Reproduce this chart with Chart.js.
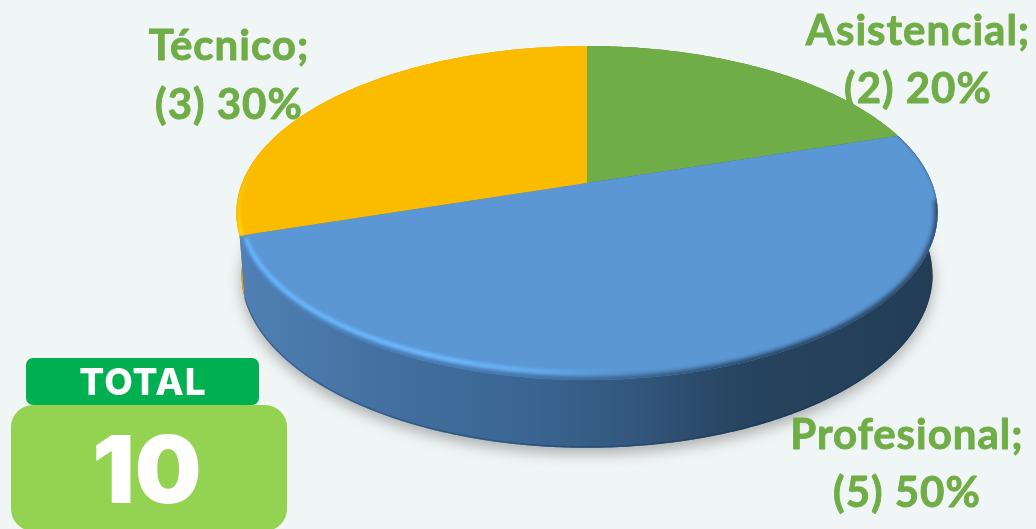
<!DOCTYPE html>
<html lang="es">
<head>
<meta charset="utf-8">
<title>Personal por nivel</title>
<script src="https://cdn.jsdelivr.net/npm/chart.js@4"></script>
<style>
html,body{margin:0;padding:0;background:#f0f5f6;overflow:hidden}
canvas{display:block}
</style>
</head>
<body>
<canvas id="pie" width="1036" height="529"></canvas>
<script>
const categories = ['Asistencial', 'Profesional', 'Técnico'];
const counts = [2, 5, 3];
const percents = [20, 50, 30];
const totalTitle = 'TOTAL';
const totalValue = 10;
const sliceColors = ['#70ad47', '#5b97d5', '#fbbc00'];
const sideColors = ['#4f7a32', '#3f6f9e', '#e5a000'];
const labelColor = '#70ad47';

// Tilted disc: horizontal stretch, perspective shift of the hub, and thickness.
const STRETCH = 2.1;
const HUB_SHIFT = -0.18;
const DEPTH_Y = 62;
const BASE_RX = 0.985;
const BASE_RY = 1.035;

function project(el, angle, rxScale, ryScale, dy) {
  const a = angle + Math.PI / 2;
  const u = Math.sin(a), v = -Math.cos(a);
  const t = HUB_SHIFT;
  const w = 1 + t * v;
  const X = u * Math.sqrt(1 - t * t) / w;
  const Y = (v + t) / w;
  return [el.x + X * el.outerRadius * STRETCH * rxScale,
          el.y + dy + Y * el.outerRadius * ryScale];
}

function arcPoints(el, from, to, rxScale = 1, ryScale = 1, dy = 0) {
  const pts = [];
  const n = Math.max(8, Math.ceil(Math.abs(to - from) * 120));
  for (let i = 0; i <= n; i++) {
    pts.push(project(el, from + (to - from) * i / n, rxScale, ryScale, dy));
  }
  return pts;
}

function trace(ctx, pts, move = true) {
  pts.forEach((p, i) => (i === 0 && move) ? ctx.moveTo(p[0], p[1]) : ctx.lineTo(p[0], p[1]));
}

function roundBox(ctx, x, y, w, h, r, fill) {
  ctx.beginPath();
  ctx.roundRect(x, y, w, h, r);
  ctx.fillStyle = fill;
  ctx.fill();
}

function horizontalGradient(ctx, stops) {
  const g = ctx.createLinearGradient(240, 0, 935, 0);
  stops.forEach(([at, color]) => g.addColorStop(at, color));
  return g;
}

const disc3d = {
  id: 'disc3d',
  beforeDatasetsDraw(chart) {
    const ctx = chart.ctx;
    const arcs = chart.getDatasetMeta(0).data;
    const first = arcs[0];

    // Soft contact shadow under the disc
    ctx.save();
    ctx.shadowColor = 'rgba(60,60,60,0.38)';
    ctx.shadowBlur = 14;
    ctx.shadowOffsetY = 6;
    ctx.fillStyle = '#3f6f9e';
    ctx.beginPath();
    trace(ctx, arcPoints(first, 0, Math.PI * 2, BASE_RX, BASE_RY, DEPTH_Y));
    ctx.closePath();
    ctx.fill();
    ctx.restore();

    // Side walls, back to front
    [2, 0, 1].forEach(i => {
      const el = arcs[i];
      const top = arcPoints(el, el.startAngle, el.endAngle);
      const base = arcPoints(el, el.startAngle, el.endAngle, BASE_RX, BASE_RY, DEPTH_Y).reverse();
      let fill = sideColors[i];
      if (i === 1) {
        fill = horizontalGradient(ctx, [
          [0, '#5080b4'], [0.22, '#426f9f'], [0.42, '#3a6592'],
          [0.58, '#32557b'], [0.72, '#274460'], [1, '#233d55']
        ]);
      }
      ctx.beginPath();
      trace(ctx, top);
      trace(ctx, base, false);
      ctx.closePath();
      ctx.fillStyle = fill;
      ctx.fill();
      if (i === 1) {
        ctx.beginPath();
        trace(ctx, arcPoints(el, el.startAngle + 0.5, el.endAngle, BASE_RX, BASE_RY, DEPTH_Y - 1));
        ctx.strokeStyle = 'rgba(24,44,72,0.35)';
        ctx.lineWidth = 1.2;
        ctx.stroke();
      }
    });

    // Top face of each slice
    arcs.forEach((el, i) => {
      ctx.beginPath();
      ctx.moveTo(el.x, el.y + el.outerRadius * HUB_SHIFT);
      trace(ctx, arcPoints(el, el.startAngle, el.endAngle), false);
      ctx.closePath();
      ctx.fillStyle = sliceColors[i];
      ctx.fill();
    });

    // Bevel on the large slice: darker at the very edge, light band just inside it
    const front = arcs[1];
    ctx.save();
    ctx.beginPath();
    ctx.moveTo(front.x, front.y + front.outerRadius * HUB_SHIFT);
    trace(ctx, arcPoints(front, front.startAngle, front.endAngle), false);
    ctx.closePath();
    ctx.clip();

    ctx.filter = 'blur(2px)';
    ctx.beginPath();
    trace(ctx, arcPoints(front, front.startAngle + 0.42, front.endAngle));
    ctx.strokeStyle = horizontalGradient(ctx, [
      [0, 'rgba(74,128,186,0.9)'], [0.4, 'rgba(66,112,165,0.9)'],
      [0.6, 'rgba(50,85,123,0.9)'], [0.75, 'rgba(36,62,88,0.95)'],
      [0.93, 'rgba(36,62,88,0.9)'], [1, 'rgba(36,62,88,0.8)']
    ]);
    ctx.lineWidth = 7;
    ctx.stroke();

    ctx.filter = 'blur(0.8px)';
    ctx.beginPath();
    trace(ctx, arcPoints(front, front.startAngle, front.startAngle + 0.5));
    ctx.strokeStyle = 'rgba(40,70,100,0.55)';
    ctx.lineWidth = 1.5;
    ctx.stroke();

    ctx.filter = 'blur(1.5px)';
    ctx.beginPath();
    trace(ctx, arcPoints(front, front.startAngle + 0.12, front.endAngle - 0.02, 0.985, 0.955));
    ctx.strokeStyle = horizontalGradient(ctx, [
      [0, 'rgba(104,180,250,1)'], [0.3, 'rgba(110,184,252,1)'],
      [0.44, 'rgba(104,176,244,0.8)'], [0.56, 'rgba(96,160,224,0)'], [1, 'rgba(96,160,224,0)']
    ]);
    ctx.lineWidth = 4.5;
    ctx.stroke();
    ctx.restore();

    // Bright edge on the left of the yellow slice
    const back = arcs[2];
    ctx.save();
    ctx.filter = 'blur(1px)';
    const glow = ctx.createLinearGradient(0, 165, 0, 236);
    glow.addColorStop(0, 'rgba(255,214,0,0)');
    glow.addColorStop(1, 'rgba(255,214,0,1)');
    ctx.beginPath();
    trace(ctx, arcPoints(back, back.startAngle, back.startAngle + 0.6, 0.992, 1));
    ctx.strokeStyle = glow;
    ctx.lineWidth = 3;
    ctx.stroke();
    ctx.restore();

    return false;
  },
  afterDraw(chart) {
    const ctx = chart.ctx;
    const spots = [[918, 45, 103], [907, 449, 507], [229, 60, 119]];

    ctx.save();
    ctx.textAlign = 'center';
    ctx.textBaseline = 'alphabetic';
    ctx.fillStyle = labelColor;
    ctx.strokeStyle = labelColor;
    ctx.lineWidth = 0.9;
    ctx.lineJoin = 'round';
    ctx.letterSpacing = '1px';
    ctx.font = '700 42px Lato';
    categories.forEach((name, i) => {
      const [x, y1, y2] = spots[i];
      const lines = [[name + ';', y1], ['(' + counts[i] + ') ' + percents[i] + '%', y2]];
      lines.forEach(([text, y]) => {
        ctx.fillText(text, x, y);
        ctx.strokeText(text, x, y);
      });
    });

    // Total badge in the lower-left corner
    roundBox(ctx, 26, 358, 233, 47, 7, '#00b050');
    roundBox(ctx, 11, 405, 276, 126, 22, '#94d352');
    ctx.fillStyle = '#ffffff';
    ctx.letterSpacing = '1px';
    ctx.font = '800 37px Inter';
    ctx.fillText(totalTitle, 143, 395);
    ctx.letterSpacing = '0px';
    ctx.font = '900 94px Inter';
    ctx.fillText(String(totalValue), 147, 503);
    ctx.restore();
  }
};

new Chart(document.getElementById('pie'), {
  type: 'pie',
  data: {
    labels: categories,
    datasets: [{ data: counts, backgroundColor: sliceColors, borderWidth: 0 }]
  },
  options: {
    responsive: false,
    animation: false,
    events: [],
    layout: { padding: { left: 138, right: 0, top: 46, bottom: 149 } },
    plugins: { legend: { display: false }, tooltip: { enabled: false } }
  },
  plugins: [disc3d]
});
</script>
</body>
</html>
